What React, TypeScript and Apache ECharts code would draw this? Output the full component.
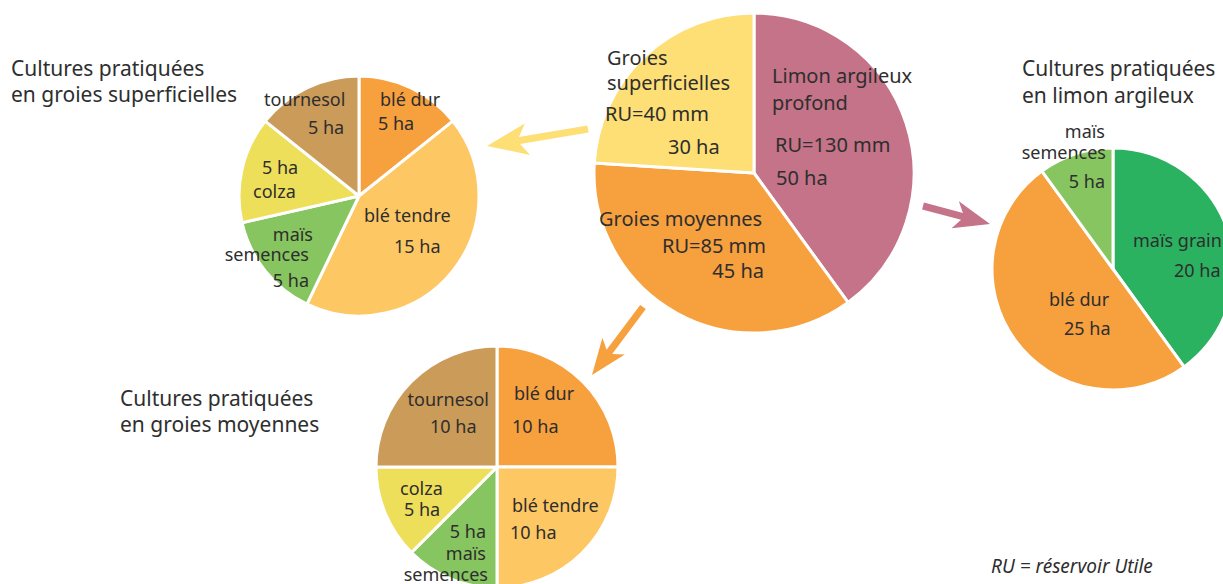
import React, { useEffect, useRef } from "react";
import * as echarts from "echarts";

// ---- Data ----
const mainNames = ["Limon argileux profond", "Groies moyennes", "Groies superficielles"];
const mainValues = [50, 45, 30];
const mainRU = [130, 85, 40];
const mainColors = ["#C47388", "#F7A03E", "#FDDF75"];

const supNames = ["blé dur", "blé tendre", "maïs semences", "colza", "tournesol"];
const supValues = [5, 15, 5, 5, 5];

const moyNames = ["blé dur", "blé tendre", "maïs semences", "colza", "tournesol"];
const moyValues = [10, 10, 5, 5, 10];

const limNames = ["maïs grain", "blé dur", "maïs semences"];
const limValues = [20, 25, 5];

const cropColors: Record<string, string> = {
  "blé dur": "#F7A03E",
  "blé tendre": "#FDC763",
  "maïs semences": "#86C560",
  colza: "#EEDF5B",
  tournesol: "#CB9B59",
  "maïs grain": "#2BB261",
};

const titleLine1 = "Cultures pratiquées";
const FONT = "'Noto Sans', Lato, sans-serif";
const TXT = "#2e2e2e";

const ha = (v: number) => `${v} ha`;
const ru = (v: number) => `RU=${v} mm`;

function txt(text: string, x: number, y: number, size = 18, align = "left", extra: any = {}) {
  return {
    type: "text",
    x,
    y,
    z: 100,
    silent: true,
    style: {
      text,
      fill: TXT,
      font: `${extra.italic ? "italic " : ""}${size}px ${FONT}`,
      align,
      verticalAlign: "middle",
    },
  };
}

function arrow(x0: number, y0: number, x1: number, y1: number, color: string, w: number, L: number, H: number, notch: number) {
  const dx = x1 - x0, dy = y1 - y0;
  const len = Math.hypot(dx, dy);
  const ux = dx / len, uy = dy / len;
  const nx = -uy, ny = ux;
  const jx = x1 - ux * (L - notch), jy = y1 - uy * (L - notch);
  const bx = x1 - ux * L, by = y1 - uy * L;
  const pts = [
    [x0 + nx * w / 2, y0 + ny * w / 2],
    [jx + nx * w / 2, jy + ny * w / 2],
    [bx + nx * H, by + ny * H],
    [x1, y1],
    [bx - nx * H, by - ny * H],
    [jx - nx * w / 2, jy - ny * w / 2],
    [x0 - nx * w / 2, y0 - ny * w / 2],
  ];
  return { type: "polygon", z: 100, silent: true, shape: { points: pts }, style: { fill: color } };
}

function pieSeries(names: string[], values: number[], colors: string[], center: [number, number], radius: number) {
  return {
    type: "pie",
    center,
    radius,
    startAngle: 90,
    clockwise: true,
    silent: true,
    z: 1,
    label: { show: false },
    labelLine: { show: false },
    itemStyle: { borderColor: "#ffffff", borderWidth: 3 },
    data: names.map((n, i) => ({ name: n, value: values[i], itemStyle: { color: colors[i] } })),
  };
}

export default function App() {
  const ref = useRef<HTMLDivElement>(null);
  useEffect(() => {
    document.body.style.margin = "0";
    const chart = echarts.init(ref.current!, null, { renderer: "svg" });
    const M = 20; // main pie label size
    const T = 21; // title size
    const graphics: any[] = [
      arrow(588, 129, 487, 146, "#FDDF75", 7, 41, 16, 8),
      arrow(923, 206, 990, 224, "#C47388", 7, 36, 14, 7),
      arrow(643, 307, 592, 375, "#F7A03E", 7, 36, 14, 7),

      // titles
      txt(titleLine1, 11, 68, T),
      txt("en groies superficielles", 11, 94, T),
      txt(titleLine1, 1022, 68, T),
      txt("en limon argileux", 1022, 95, T),
      txt(titleLine1, 120, 398, T),
      txt("en groies moyennes", 120, 424, T),

      // main pie
      txt("Groies", 607, 57, M),
      txt("superficielles", 607, 82, M),
      txt(ru(mainRU[2]), 605, 113, M),
      txt(ha(mainValues[2]), 668, 146, M),
      txt("Limon argileux", 772, 75, M),
      txt("profond", 772, 102, M),
      txt(ru(mainRU[0]), 775, 144, M),
      txt(ha(mainValues[0]), 776, 177, M),
      txt("Groies moyennes", 599, 218, M),
      txt(ru(mainRU[1]), 766, 245, M, "right"),
      txt(ha(mainValues[1]), 764, 270, M, "right"),

      // groies superficielles pie
      txt("tournesol", 264, 99),
      txt(ha(supValues[4]), 308, 127),
      txt("blé dur", 380, 99),
      txt(ha(supValues[0]), 378, 123),
      txt(ha(supValues[3]), 262, 167),
      txt("colza", 253, 191),
      txt("blé tendre", 364, 215),
      txt(ha(supValues[1]), 394, 246),
      txt("maïs", 313, 234, 18, "right"),
      txt("semences", 309, 254, 18, "right"),
      txt(ha(supValues[2]), 309, 280, 18, "right"),

      // groies moyennes pie
      txt("tournesol", 489, 399, 18, "right"),
      txt(ha(moyValues[4]), 430, 426),
      txt("blé dur", 514, 393),
      txt(ha(moyValues[0]), 512, 426),
      txt("colza", 400, 488),
      txt(ha(moyValues[3]), 404, 509),
      txt(ha(moyValues[2]), 486, 531, 18, "right"),
      txt("maïs", 486, 553, 18, "right"),
      txt("semences", 488, 574, 18, "right"),
      txt("blé tendre", 512, 505),
      txt(ha(moyValues[1]), 510, 532),

      // limon argileux pie
      txt("maïs", 1105, 131, 18, "right"),
      txt("semences", 1106, 152, 18, "right"),
      txt(ha(limValues[2]), 1105, 181, 18, "right"),
      txt("maïs grain", 1133, 240),
      txt(ha(limValues[0]), 1174, 270),
      txt("blé dur", 1049, 299),
      txt(ha(limValues[1]), 1064, 328),

      txt("RU = réservoir Utile", 991, 566, 19, "left", { italic: true }),
    ];

    chart.setOption({
      animation: false,
      backgroundColor: "#ffffff",
      series: [
        pieSeries(mainNames, mainValues, mainColors, [754, 173], 160),
        pieSeries(supNames, supValues, supNames.map((n) => cropColors[n]), [359, 196], 120),
        pieSeries(moyNames, moyValues, moyNames.map((n) => cropColors[n]), [497, 467], 121),
        pieSeries(limNames, limValues, limNames.map((n) => cropColors[n]), [1113, 269], 121),
      ],
      graphic: graphics,
    });
    return () => chart.dispose();
  }, []);
  return <div ref={ref} style={{ width: 1223, height: 584 }} />;
}
